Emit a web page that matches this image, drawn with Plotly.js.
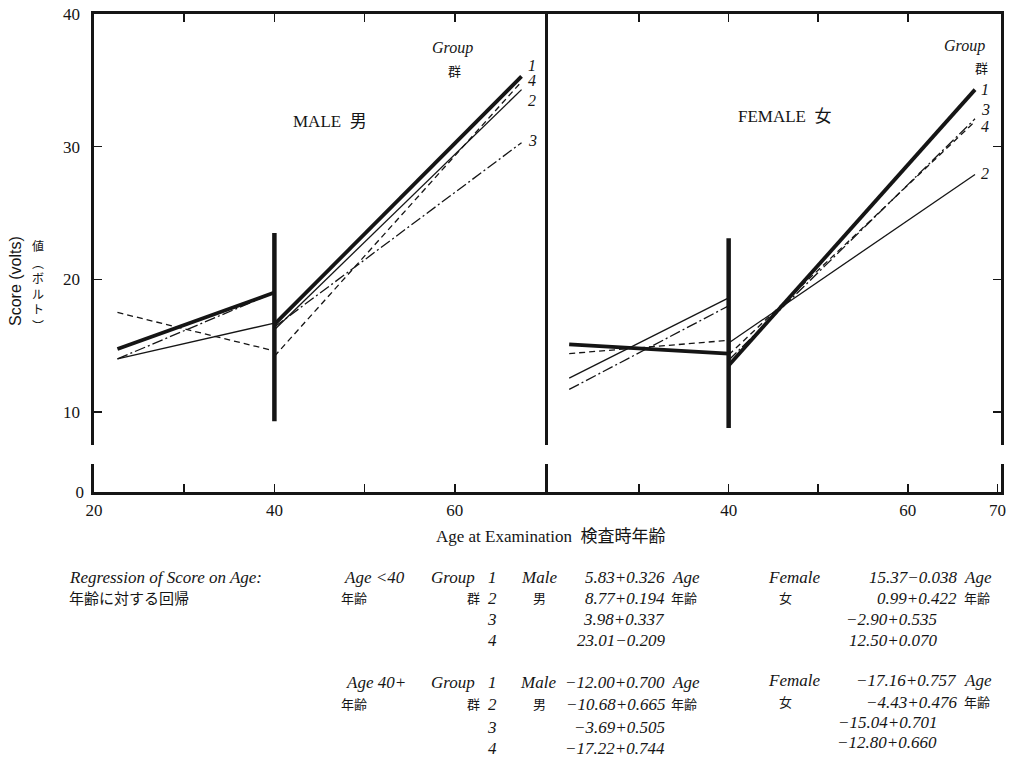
<!DOCTYPE html>
<html><head><meta charset="utf-8">
<script src="https://cdn.plot.ly/plotly-3.0.1.min.js"></script>
<style>html,body{margin:0;padding:0;background:#fff;overflow:hidden}#chart{width:1013px;height:769px}</style>
</head><body><div id="chart"></div>
<script>
const W = 1013, H = 769;

// ---------- data ----------
const maleAgeYoung   = [22.6, 40];
const maleAgeOld     = [40, 67.4];
const femaleAgeYoung = [22.2, 40];
const femaleAgeOld   = [40, 67.5];

const maleYoung1 = [14.75, 19.0], maleYoung2 = [14.0, 16.7], maleYoung3 = [14.0, 19.0], maleYoung4 = [17.5, 14.6];
const maleOld1   = [16.6, 35.3],  maleOld2   = [16.2, 34.3], maleOld3   = [16.4, 30.3], maleOld4   = [14.2, 34.9];
const femaleYoung1 = [15.1, 14.4], femaleYoung2 = [12.55, 18.6], femaleYoung3 = [11.7, 18.0], femaleYoung4 = [14.4, 15.4];
const femaleOld1   = [13.5, 34.3], femaleOld2   = [15.2, 27.9],  femaleOld3   = [13.9, 32.1], femaleOld4   = [14.3, 31.9];

const errAge = [40, 40];
const maleErr = [9.3, 23.5];
const femaleErr = [8.8, 23.1];

const yTickVals = [10, 20, 30, 40];
const maleXTickVals = [20, 30, 40, 50, 60];
const maleXTickText = ['20', '', '40', '', '60'];
const femaleXTickVals = [30, 40, 50, 60, 70];
const femaleXTickText = ['', '40', '', '60', '70'];

// regression table text
const tableMaleYoung   = ['5.83+0.326', '8.77+0.194', '3.98+0.337', '23.01\u22120.209'];
const tableFemaleYoung = ['15.37\u22120.038', '0.99+0.422', '\u22122.90+0.535', '12.50+0.070'];
const tableMaleOld     = ['\u221212.00+0.700', '\u221210.68+0.665', '\u22123.69+0.505', '\u221217.22+0.744'];
const tableFemaleOld   = ['\u221217.16+0.757', '\u22124.43+0.476', '\u221215.04+0.701', '\u221212.80+0.660'];
const yLabelJP = ['値', '︵', 'ボ', 'ル', 'ト', '︶'];

// ---------- styling ----------
const INK = '#151515';
const SERIF = 'Liberation Serif, DejaVu Serif, Noto Sans CJK JP, serif';
const SANS = 'Liberation Sans, DejaVu Sans, sans-serif';
const styles = {
  1: {width: 3.8, dash: 'solid'},
  2: {width: 1.3, dash: 'solid'},
  3: {width: 1.3, dash: '11px,3px,2px,3px'},
  4: {width: 1.3, dash: '6px,4px'}
};

function line(x, y, g, xa, ya) {
  return {x: x, y: y, xaxis: xa, yaxis: ya, mode: 'lines', type: 'scatter',
          line: {color: INK, width: styles[g].width, dash: styles[g].dash},
          hoverinfo: 'skip', showlegend: false};
}
const traces = [
  line(maleAgeYoung, maleYoung4, 4, 'x', 'y'),
  line(maleAgeYoung, maleYoung3, 3, 'x', 'y'),
  line(maleAgeYoung, maleYoung2, 2, 'x', 'y'),
  line(maleAgeYoung, maleYoung1, 1, 'x', 'y'),
  line(maleAgeOld, maleOld4, 4, 'x', 'y'),
  line(maleAgeOld, maleOld3, 3, 'x', 'y'),
  line(maleAgeOld, maleOld2, 2, 'x', 'y'),
  line(maleAgeOld, maleOld1, 1, 'x', 'y'),
  line(femaleAgeYoung, femaleYoung4, 4, 'x2', 'y2'),
  line(femaleAgeYoung, femaleYoung3, 3, 'x2', 'y2'),
  line(femaleAgeYoung, femaleYoung2, 2, 'x2', 'y2'),
  line(femaleAgeYoung, femaleYoung1, 1, 'x2', 'y2'),
  line(femaleAgeOld, femaleOld4, 4, 'x2', 'y2'),
  line(femaleAgeOld, femaleOld3, 3, 'x2', 'y2'),
  line(femaleAgeOld, femaleOld2, 2, 'x2', 'y2'),
  line(femaleAgeOld, femaleOld1, 1, 'x2', 'y2'),
  {x: errAge, y: maleErr, xaxis: 'x', yaxis: 'y', mode: 'lines', line: {color: INK, width: 4.5}, hoverinfo: 'skip', showlegend: false},
  {x: errAge, y: femaleErr, xaxis: 'x2', yaxis: 'y2', mode: 'lines', line: {color: INK, width: 4.5}, hoverinfo: 'skip', showlegend: false},
  // empty placeholders so the broken-axis strips (0 level) are created
  {x: maleAgeYoung, y: maleAgeYoung.map(() => null), xaxis: 'x3', yaxis: 'y3', mode: 'lines', hoverinfo: 'skip', showlegend: false},
  {x: femaleAgeYoung, y: femaleAgeYoung.map(() => null), xaxis: 'x4', yaxis: 'y4', mode: 'lines', hoverinfo: 'skip', showlegend: false}
];

// ---------- layout helpers ----------
const PX = p => p / W;
const PY = p => 1 - p / H;
const maleDom = [PX(94), PX(545)];
const femaleDom = [PX(545), PX(1001)];
const upperDom = [PY(445), PY(14)];
const lowerDom = [PY(492), PY(464)];

const axBase = {showline: true, linecolor: INK, linewidth: 2.6, ticks: 'inside', ticklen: 8,
  tickwidth: 1.6, tickcolor: INK, showgrid: false, zeroline: false, fixedrange: true,
  tickfont: {family: SERIF, size: 17, color: INK}};

function ann(text, px, py, o) {
  o = o || {};
  return Object.assign({text: text, x: PX(px), y: PY(py), xref: 'paper', yref: 'paper',
    showarrow: false, xanchor: 'center', yanchor: 'middle',
    font: {family: SERIF, size: 16, color: INK}}, o);
}
const ital = (s) => '<i>' + s + '</i>';

const annotations = [
  ann('MALE\u2002男', 330, 121, {font: {family: SERIF, size: 17, color: INK}}),
  ann('FEMALE\u2002女', 785, 117, {font: {family: SERIF, size: 17, color: INK}}),
  ann(ital('Group'), 452, 48, {font: {family: SERIF, size: 16, color: INK}}),
  ann('群', 454, 72, {font: {family: SERIF, size: 13, color: INK}}),
  ann(ital('Group'), 964, 46, {font: {family: SERIF, size: 16, color: INK}}),
  ann('群', 981, 68, {font: {family: SERIF, size: 13, color: INK}}),
  // group labels at line ends
  ann(ital('1'), 532, 66), ann(ital('4'), 532, 81), ann(ital('2'), 532, 100), ann(ital('3'), 532, 140),
  ann(ital('1'), 985, 89), ann(ital('3'), 985, 109), ann(ital('4'), 985, 127), ann(ital('2'), 985, 174),
  // y-axis title
  ann('Score (volts)', 15, 281, {textangle: -90, borderpad: 0, font: {family: SANS, size: 16, color: INK}}),
  // x-axis title
  ann('Age at Examination\u2002検査時年齢', 550, 536, {font: {family: SERIF, size: 17, color: INK}})
];
// vertical Japanese label
const jpY = [245, 262, 277, 293, 309, 325];
yLabelJP.forEach((ch, i) => annotations.push(
  ann(ch, 38, jpY[i], {borderpad: 0, font: {family: 'Noto Sans CJK JP, sans-serif', size: 12, color: INK}})));

// regression table
const rowY1 = [577, 598, 619, 640];
const rowY2 = [682, 704, 727, 748];
const rowY2f = [680, 702, 722, 742];
const TS = 17, JP = 13;
const L = (t, px, py, size) => ann(t, px, py, {xanchor: 'left', borderpad: 0, font: {family: SERIF, size: size || TS, color: INK}});
const R = (t, px, py, size) => ann(t, px, py, {xanchor: 'right', borderpad: 0, font: {family: SERIF, size: size || TS, color: INK}});
annotations.push(
  L(ital('Regression of Score on Age:'), 68, rowY1[0]),
  L('年齢に対する回帰', 68, rowY1[1], 15),
  L(ital('Age &lt;40'), 343, rowY1[0]),
  L('年齢', 340, rowY1[1], JP),
  L(ital('Age 40+'), 345, rowY2[0]),
  L('年齢', 340, rowY2[1], JP),
  L(ital('Group'), 430, rowY1[0]), L(ital('Group'), 430, rowY2[0]),
  L('群', 466, rowY1[1], JP), L('群', 466, rowY2[1], JP),
  L(ital('Male'), 520, rowY1[0]), L(ital('Male'), 519, rowY2[0]),
  L('男', 532, rowY1[1], JP), L('男', 532, rowY2[1], JP),
  L(ital('Female'), 767, rowY1[0]), L(ital('Female'), 767, rowY2f[0]),
  L('女', 778, rowY1[1], JP), L('女', 778, rowY2f[1], JP)
);
for (let i = 0; i < 4; i++) {
  annotations.push(R(ital(String(i + 1)), 498, rowY1[i]));
  annotations.push(R(ital(String(i + 1)), 498, rowY2[i]));
  annotations.push(R(ital(tableMaleYoung[i]), 666, rowY1[i]));
  annotations.push(R(ital(tableMaleOld[i]), 666, rowY2[i]));
  const fr = (i < 2) ? 958 : 938;
  annotations.push(R(ital(tableFemaleYoung[i]), fr, rowY1[i]));
  annotations.push(R(ital(tableFemaleOld[i]), fr, rowY2f[i]));
}
annotations.push(
  L(ital('Age'), 671, rowY1[0]), L('年齢', 670, rowY1[1], JP),
  L(ital('Age'), 671, rowY2[0]), L('年齢', 670, rowY2[1], JP),
  L(ital('Age'), 963, rowY1[0]), L('年齢', 963, rowY1[1], JP),
  L(ital('Age'), 963, rowY2f[0]), L('年齢', 963, rowY2f[1], JP)
);

const layout = {
  width: W, height: H, margin: {l: 0, r: 0, t: 0, b: 0}, paper_bgcolor: '#ffffff', plot_bgcolor: 'rgba(0,0,0,0)',
  showlegend: false,
  font: {family: SERIF, size: 17, color: INK},
  xaxis: Object.assign({}, axBase, {domain: maleDom, range: [20, 70], anchor: 'y', side: 'top', tickvals: [30, 40, 50, 60], showticklabels: false}),
  yaxis: Object.assign({}, axBase, {domain: upperDom, range: [7.51, 40], anchor: 'x', mirror: true, tickvals: yTickVals, ticklabelstandoff: 8}),
  xaxis2: Object.assign({}, axBase, {domain: femaleDom, range: [19.5, 70.4], anchor: 'y2', side: 'top', tickvals: [30, 40, 50, 60], showticklabels: false}),
  yaxis2: Object.assign({}, axBase, {domain: upperDom, range: [7.51, 40], anchor: 'x2', side: 'right', mirror: false, tickvals: [10, 20, 30], showticklabels: false}),
  xaxis3: Object.assign({}, axBase, {domain: maleDom, range: [20, 70], anchor: 'y3', side: 'bottom', tickvals: maleXTickVals, ticktext: maleXTickText, ticklabelstandoff: 1}),
  yaxis3: Object.assign({}, axBase, {domain: lowerDom, range: [0, 2.1], anchor: 'x3', mirror: true, ticks: '', tickvals: [0], ticktext: ['0'], ticklabelstandoff: 4}),
  xaxis4: Object.assign({}, axBase, {domain: femaleDom, range: [19.5, 70.4], anchor: 'y4', side: 'bottom', tickvals: femaleXTickVals, ticktext: femaleXTickText, ticklabelstandoff: 1}),
  yaxis4: Object.assign({}, axBase, {domain: lowerDom, range: [0, 2.1], anchor: 'x4', side: 'right', mirror: false, ticks: '', showticklabels: false}),
  annotations: annotations
};

Plotly.newPlot('chart', traces, layout, {displayModeBar: false, staticPlot: true});
</script>
</body></html>
